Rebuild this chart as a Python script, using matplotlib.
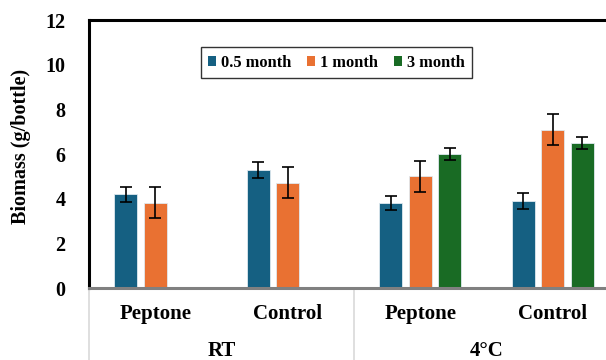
import matplotlib
matplotlib.use("Agg")
import matplotlib.pyplot as plt
import numpy as np
from matplotlib.lines import Line2D
from matplotlib.patches import Patch

plt.rcParams['font.family'] = ['Liberation Serif', 'DejaVu Serif']
plt.rcParams['font.weight'] = 'bold'

categories = ["Peptone", "Control", "Peptone", "Control"]
groups = ["RT", "4\u00b0C"]
series_names = ["0.5 month", "1 month", "3 month"]
colors = ["#156082", "#E97132", "#196B24"]

# values per series per category (NaN = missing)
half_month = [4.2, 5.28, 3.81, 3.9]
one_month = [3.82, 4.72, 5.0, 7.09]
three_month = [np.nan, np.nan, 5.99, 6.49]
half_err = [0.34, 0.35, 0.33, 0.35]
one_err = [0.7, 0.7, 0.7, 0.7]
three_err = [np.nan, np.nan, 0.27, 0.25]

values = [half_month, one_month, three_month]
errors = [half_err, one_err, three_err]

W, H = 606, 360
fig = plt.figure(figsize=(W / 100, H / 100), dpi=100)
ax = fig.add_axes([89 / W, 1 - 288 / H, 1 - 89 / W, (288 - 20) / H])

x = np.arange(len(categories))
slot = 29.5 / 132.5
bw = 23 / 132.5
for i, (vals, errs) in enumerate(zip(values, errors)):
    pos = x + (i - 1) * slot
    v = np.array(vals, dtype=float)
    e = np.array(errs, dtype=float)
    m = ~np.isnan(v)
    ax.bar(pos[m], v[m], width=bw, color=colors[i], edgecolor='#dfe9ef', linewidth=0.6,
           label=series_names[i], zorder=2)
    ax.errorbar(pos[m], v[m], yerr=e[m], fmt='none', ecolor='black', elinewidth=1.2,
                capsize=4, capthick=1.2, zorder=3)

ax.set_ylim(0, 12)
ax.set_xlim(-0.5, -0.5 + (W - 89) / 132.5)
ax.set_yticks(np.arange(0, 13, 2))
ax.tick_params(axis='y', length=0, labelsize=14.5, pad=17)
for lab in ax.get_yticklabels():
    lab.set_fontweight('bold')
ax.set_xticks([])

for s in ['right']:
    ax.spines[s].set_visible(False)
ax.spines['left'].set_linewidth(2.2)
ax.spines['top'].set_linewidth(2.2)
ax.spines['left'].set_color('black')
ax.spines['top'].set_color('black')
ax.spines['bottom'].set_color('#808080')
ax.spines['bottom'].set_linewidth(2.2)
ax.spines['bottom'].set_zorder(4)

ax.set_ylabel("Biomass (g/bottle)", fontsize=14.5, fontweight='bold')
ax.yaxis.set_label_coords(-58 / (W - 89), 0.53)

trans = ax.get_xaxis_transform()
for sx in [-0.5, 1.5, 3.5]:
    ax.add_line(Line2D([sx, sx], [0, -0.4], transform=trans, color='#d9d9d9',
                       linewidth=1.2, clip_on=False, zorder=1))
for xi, c in zip(x, categories):
    ax.text(xi, -26 / 268, c, transform=trans, ha='center', va='center',
            fontsize=15, fontweight='bold')
for gi, g in enumerate(groups):
    ax.text(2 * gi + 0.5, -63 / 268, g, transform=trans, ha='center', va='center',
            fontsize=15, fontweight='bold')

handles = [Patch(facecolor=c, edgecolor='none') for c in colors]
leg = ax.legend(handles, series_names, loc='upper left',
                bbox_to_anchor=((200.7 - 89) / (W - 89), 1 - (47.3 - 20) / 268),
                ncol=3, frameon=True, fancybox=False, edgecolor='black',
                prop={'weight': 'bold', 'size': 11.8}, handlelength=0.5, handleheight=0.5,
                handletextpad=0.3, columnspacing=0.95, borderpad=0.45, borderaxespad=0)
leg.get_frame().set_linewidth(1.0)

fig.savefig("out.png", dpi=100)
